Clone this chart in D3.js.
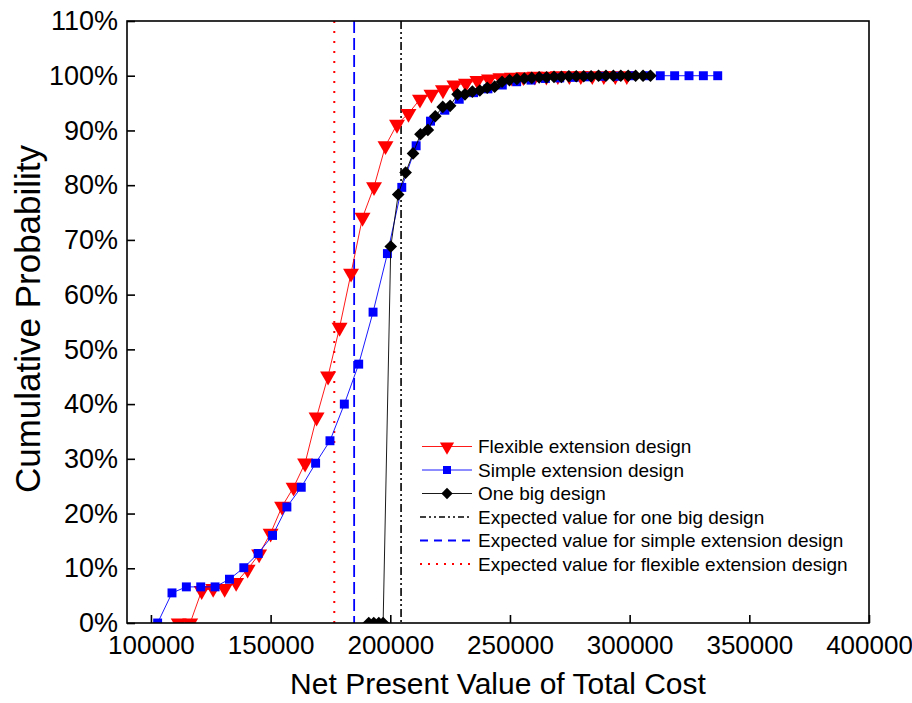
<!DOCTYPE html>
<html>
<head>
<meta charset="utf-8">
<script src="https://cdn.jsdelivr.net/npm/d3@7"></script>
<style>
  html, body { margin: 0; padding: 0; background: #fff; }
  svg { display: block; font-family: Arial, "Liberation Sans", sans-serif; }
</style>
</head>
<body>
<svg id="chart" width="912" height="703"></svg>
<script>
// ---- Data ----
const flexX = [111600,116400,121200,126000,130800,135600,140400,145200,150000,154800,
  159600,164400,169200,174000,178800,183600,188400,193200,198000,202800,
  207600,212400,217200,222000,226800,231600,236400,241200,246000,250800,
  255600,260400,265200,270000,274800,279600,284400,289200,294000,298800];
const flexY = [0,0,5.9,6.3,6.3,7.4,9.8,12.6,16.4,21.3,
  24.8,29.2,37.6,45.1,54.0,63.9,74.1,79.7,87.2,91.1,
  93.1,95.7,96.6,97.4,98.3,98.6,99.1,99.4,99.6,99.7,
  99.8,99.9,99.9,100,100,100,100,100,100,100];

const simpleX = [102800,108800,114800,120800,126800,132800,138800,144800,150800,156800,
  162800,168800,174800,180800,186800,192800,198800,204800,210800,216800,
  222800,228800,234800,240800,246800,252800,258800,264800,270800,276800,
  282800,288800,294800,300800,306800,312800,318800,324800,330800,336800];
const simpleY = [0,5.5,6.6,6.6,6.6,8.0,10.1,12.7,16.0,21.2,
  24.8,29.2,33.3,40.0,47.3,56.8,67.5,79.6,87.2,91.7,
  93.7,95.7,96.9,97.6,98.3,98.9,99.2,99.5,99.6,99.7,
  99.8,99.9,99.9,100,100,100,100,100,100,100];

const bigX = [191000,193100,195200,197000,200200,203300,206400,209500,212600,215700,
  218800,221900,225000,228100,231200,234300,237400,240500,243600,246700,
  249800,252900,256000,259100,262200,265300,268400,271500,274600,277700,
  280800,283900,287000,290100,293200,296300,299400,302500,305600,308700];
const bigY = [0,0,0,0,68.8,78.3,82.3,85.8,89.3,90.1,
  92.6,94.3,94.5,96.6,96.6,97.1,97.3,97.8,98.0,98.9,
  99.2,99.4,99.5,99.6,99.7,99.7,99.8,99.8,99.9,99.9,
  99.9,99.9,100,100,100,100,100,100,100,100];

const expectedNames = ["Expected value for one big design",
  "Expected value for simple extension design",
  "Expected value for flexible extension design"];
const expectedValues = [204500, 184900, 176600];

const seriesNames = ["Flexible extension design", "Simple extension design", "One big design"];
const xTicks = [100000,150000,200000,250000,300000,350000,400000];
const yTicks = [0,10,20,30,40,50,60,70,80,90,100,110];
const xTitle = "Net Present Value of Total Cost";
const yTitle = "Cumulative Probability";

// ---- Layout ----
const svg = d3.select("#chart");
const L = 127, T = 21, R = 869, B = 623;
const x = d3.scaleLinear().domain([90000, 400000]).range([L, R]);
const y = d3.scaleLinear().domain([0, 110]).range([B, T]);

svg.append("rect").attr("width", 912).attr("height", 703).attr("fill", "#fff");

svg.append("defs").append("clipPath").attr("id", "plotclip")
  .append("rect").attr("x", L).attr("y", T).attr("width", R - L).attr("height", B - T);

const plot = svg.append("g").attr("clip-path", "url(#plotclip)");

// expected value vertical lines
const expStyles = [
  { color: "#000", dash: "8,3,2,3,2,3", w: 1.6 },
  { color: "#0000FF", dash: "12,5", w: 1.8 },
  { color: "#FF0000", dash: "2,8", w: 2 }
];
expectedValues.forEach((v, i) => {
  plot.append("line")
    .attr("x1", x(v)).attr("x2", x(v)).attr("y1", T).attr("y2", B)
    .attr("stroke", expStyles[i].color).attr("stroke-width", expStyles[i].w)
    .attr("stroke-dasharray", expStyles[i].dash);
});

const line = d3.line().x(d => x(d[0])).y(d => y(d[1]));

const series = [
  { xs: flexX, ys: flexY, color: "#FF0000", sym: d3.symbolTriangle, size: 110, rot: 180 },
  { xs: simpleX, ys: simpleY, color: "#0000FF", sym: d3.symbolSquare, size: 80, rot: 0 },
  { xs: bigX, ys: bigY, color: "#000000", sym: d3.symbolSquare, size: 80, rot: 45 }
];

series.forEach(s => {
  const pts = s.xs.map((v, i) => [v, s.ys[i]]);
  plot.append("path").datum(pts)
    .attr("d", line).attr("fill", "none")
    .attr("stroke", s.color).attr("stroke-width", 0.9);
  plot.selectAll(null).data(pts).enter().append("path")
    .attr("d", d3.symbol().type(s.sym).size(s.size))
    .attr("transform", d => `translate(${x(d[0])},${y(d[1])}) rotate(${s.rot})`)
    .attr("fill", s.color);
});

// frame
svg.append("rect").attr("x", L).attr("y", T).attr("width", R - L).attr("height", B - T)
  .attr("fill", "none").attr("stroke", "#000").attr("stroke-width", 1.6);

// axes (ticks inward)
const xAxis = d3.axisBottom(x).tickValues(xTicks).tickSizeInner(-8).tickSizeOuter(0)
  .tickPadding(13).tickFormat(d3.format("d"));
const gx = svg.append("g").attr("transform", `translate(0,${B})`).call(xAxis);
gx.select(".domain").remove();
gx.selectAll("line").attr("stroke", "#000").attr("stroke-width", 1.6);
gx.selectAll("text").attr("font-size", 26).attr("fill", "#000")
  .attr("font-family", "Arial, 'Liberation Sans', sans-serif");

const yAxis = d3.axisLeft(y).tickValues(yTicks).tickSizeInner(-8).tickSizeOuter(0)
  .tickPadding(9).tickFormat(d => d + "%");
const gy = svg.append("g").attr("transform", `translate(${L},0)`).call(yAxis);
gy.select(".domain").remove();
gy.selectAll("line").attr("stroke", "#000").attr("stroke-width", 1.6);
gy.selectAll("text").attr("font-size", 27).attr("fill", "#000")
  .attr("font-family", "Arial, 'Liberation Sans', sans-serif");

// titles
svg.append("text").attr("x", (L + R) / 2).attr("y", 694)
  .attr("text-anchor", "middle").attr("font-size", 30).attr("fill", "#000").text(xTitle);
svg.append("text").attr("transform", `translate(40,319) rotate(-90)`)
  .attr("text-anchor", "middle").attr("font-size", 35).attr("fill", "#000").text(yTitle);

// legend
const legX1 = 422, legX2 = 472, legTextX = 478;
const rowY = [446.5, 470, 493.5, 517, 540.5, 564];
const lg = svg.append("g");
series.forEach((s, i) => {
  lg.append("line").attr("x1", legX1).attr("x2", legX2).attr("y1", rowY[i]).attr("y2", rowY[i])
    .attr("stroke", s.color).attr("stroke-width", 0.9);
  lg.append("path").attr("d", d3.symbol().type(s.sym).size(s.size * 0.8))
    .attr("transform", `translate(${(legX1 + legX2) / 2},${rowY[i]}) rotate(${s.rot})`)
    .attr("fill", s.color);
  lg.append("text").attr("x", legTextX).attr("y", rowY[i]).attr("dy", "0.35em")
    .attr("font-size", 19).attr("fill", "#000").text(seriesNames[i]);
});
expectedNames.forEach((n, i) => {
  const r = rowY[3 + i];
  lg.append("line").attr("x1", legX1 - 2).attr("x2", legX2).attr("y1", r).attr("y2", r)
    .attr("stroke", expStyles[i].color).attr("stroke-width", expStyles[i].w)
    .attr("stroke-dasharray", i === 0 ? "6,3,2,3,2,3" : (i === 1 ? "8,6" : "2,6"));
  lg.append("text").attr("x", legTextX).attr("y", r).attr("dy", "0.35em")
    .attr("font-size", 19).attr("fill", "#000").text(n);
});
</script>
</body>
</html>
